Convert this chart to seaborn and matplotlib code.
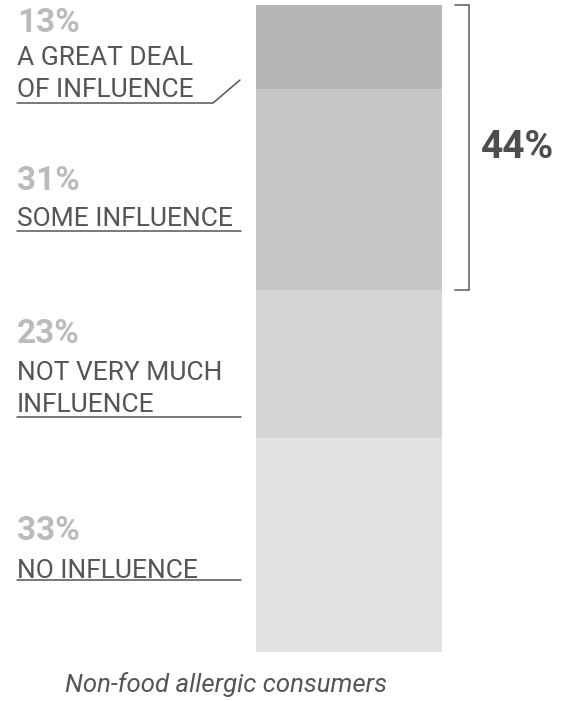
import numpy as np
import matplotlib.pyplot as plt
import seaborn as sns

# values, top segment first
levels = [("A GREAT DEAL", "OF INFLUENCE"), ("SOME INFLUENCE",), ("NOT VERY MUCH", "INFLUENCE"), ("NO INFLUENCE",)]
shares = [13, 31, 23, 33]
seg_colors = ["#b4b7b5", "#c5c7c6", "#d4d5d5", "#e2e2e2"]
bracket_label = "44%"
caption = "Non-food allergic consumers"

sns.set_theme(style="white")
plt.rcParams["font.family"] = ["Roboto", "DejaVu Sans"]

W, H = 570, 701
fig = plt.figure(figsize=(W / 100, H / 100), dpi=100)
ax = fig.add_axes([256 / W, 49 / H, 186 / W, 647 / H])

# stacked bar: draw the cumulative heights tallest first so each shorter one sits on top
tops = np.cumsum(shares[::-1])[::-1]
for top, col in zip(tops, seg_colors):
    sns.barplot(x=["all"], y=[top], color=col, width=1, saturation=1, linewidth=0, ax=ax)
ax.set_xlim(-0.5, 0.5)
ax.set_ylim(0, 100)
ax.axis("off")

# bracket around the first two segments
y_hi = 100
y_lo = 100 - (shares[0] + shares[1])
tr = ax.get_yaxis_transform()
ax.plot([1.07, 1.145, 1.145, 1.07], [y_hi, y_hi, y_lo, y_lo], color="#666666", lw=1.2,
        transform=tr, clip_on=False, solid_joinstyle="miter")
ax.text(1.21, (y_hi + y_lo) / 2, bracket_label, transform=tr, ha="left", va="center",
        fontsize=28, fontweight="bold", color="#4d4d4d")

# labels on the left, in pixel coordinates
ov = fig.add_axes([0, 0, 1, 1], facecolor="none")
ov.set_xlim(0, W)
ov.set_ylim(H, 0)
ov.axis("off")

pct_base = [32, 190, 343, 540]
line_base = [[65, 97], [226], [380, 412], [578]]
rule_y = [103, 231, 417, 580]
for i, (lines, pct) in enumerate(zip(levels, shares)):
    ov.text(17, pct_base[i], f"{pct}%", fontsize=24, fontweight="bold", color="#b9bcbb",
            ha="left", va="baseline")
    for txt, yb in zip(lines, line_base[i]):
        ov.text(17, yb, txt, fontsize=19, color="#555555", ha="left", va="baseline")
    if i == 0:
        ov.plot([17, 213, 240], [rule_y[i], rule_y[i], 80], color="#555555", lw=1.1)
    else:
        ov.plot([17, 241], [rule_y[i], rule_y[i]], color="#555555", lw=1.1)

ov.text(226, 692, caption, fontsize=18.5, fontstyle="italic", color="#555555",
        ha="center", va="baseline")

fig.savefig("out.png", dpi=100)
